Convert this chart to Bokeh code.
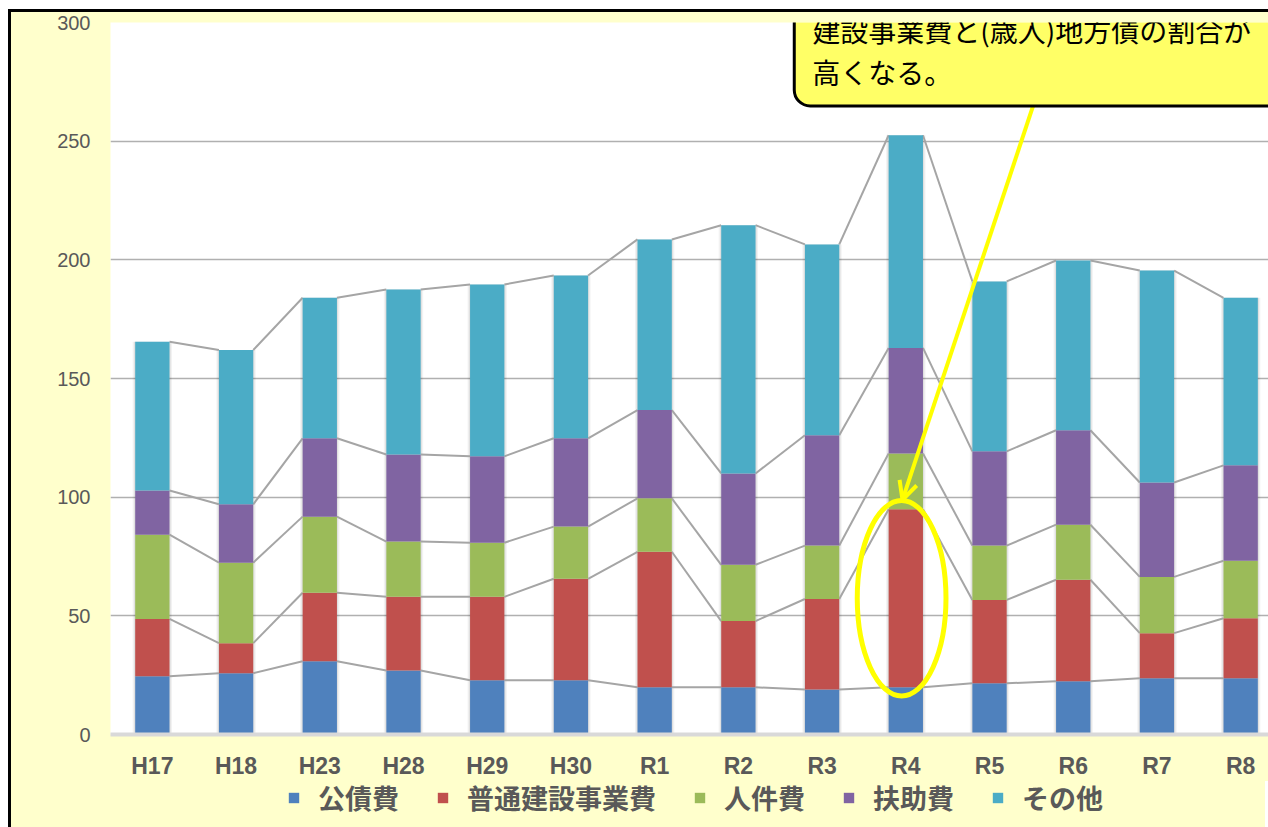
import numpy as np
from bokeh.plotting import figure
from bokeh.layouts import column
from bokeh.models import (Range1d, FixedTicker, Legend, LegendItem, Label, Arrow, OpenHead)
from bokeh.embed import file_html
from bokeh.resources import INLINE

# ---- data (億円) ----
years = ["H17", "H18", "H23", "H28", "H29", "H30", "R1", "R2", "R3", "R4", "R5", "R6", "R7", "R8"]
series_names = ["公債費", "普通建設事業費", "人件費", "扶助費", "その他"]
kousaihi = [24.5, 25.8, 30.9, 27.0, 22.9, 22.9, 19.9, 19.9, 19.0, 19.9, 21.6, 22.4, 23.7, 23.7]
futsuu_kensetsu = [24.2, 12.7, 28.8, 31.0, 35.1, 42.7, 57.1, 27.9, 38.1, 75.0, 35.1, 42.8, 19.0, 25.3]
jinkenhi = [35.5, 33.9, 32.1, 23.3, 22.8, 22.0, 22.5, 23.7, 22.5, 23.5, 22.9, 23.2, 23.7, 24.2]
fujohi = [18.6, 24.6, 33.0, 36.7, 36.4, 37.2, 37.2, 38.5, 46.5, 44.5, 39.7, 39.8, 39.8, 40.2]
sonota = [62.7, 65.0, 59.2, 69.5, 72.4, 68.6, 71.9, 104.6, 80.4, 89.6, 71.6, 71.5, 89.3, 70.6]
y_ticks = [0, 50, 100, 150, 200, 250, 300]
callout_text = "建設事業費と(歳入)地方債の割合が\n高くなる。"
highlight_year = "R4"

colors = ["#4F81BD", "#C0504D", "#9BBB59", "#8064A2", "#4BACC6"]
all_series = [kousaihi, futsuu_kensetsu, jinkenhi, fujohi, sonota]

n = len(years)
idx = np.arange(n)
vals = np.array(all_series, dtype=float)
tops = np.cumsum(vals, axis=0)
bottoms = tops - vals
BAR_W = 0.41

CJK = "Noto Sans CJK JP"
BG = "#FFFFCC"
PX_X = 83.5          # px per category
PX_Y = 709 / 300.0   # px per unit

def sx(px):  # page x pixel -> data x
    return -0.5 + (px - 110) / PX_X

def sy(py):  # page y pixel -> data y
    return (731 - py) / PX_Y

p = figure(frame_width=1158, frame_height=709, output_backend="svg", toolbar_location=None,
           x_range=Range1d(-0.5, -0.5 + 1158 / PX_X), y_range=Range1d(0, 300),
           min_border_left=99, min_border_right=0, min_border_top=10, min_border_bottom=50)
p.styles = {"margin-left": "8px", "margin-top": "9px", "background-color": BG,
            "border-left": "3px solid black", "border-top": "3px solid black"}
p.border_fill_color = BG
p.background_fill_color = "white"
p.outline_line_color = None

# grid
p.xgrid.grid_line_color = None
p.ygrid.ticker = FixedTicker(ticks=y_ticks)
p.ygrid.grid_line_color = "#B0B0B0"
p.ygrid.grid_line_width = 1.5

# shadows behind bars
p.vbar(x=idx, bottom=0, top=tops[-1], width=BAR_W + 0.06, fill_color="black", fill_alpha=0.05, line_color=None)
p.vbar(x=idx, bottom=0, top=tops[-1], width=BAR_W + 0.03, fill_color="black", fill_alpha=0.07, line_color=None)

# series lines
for k in range(len(all_series)):
    p.segment(x0=idx[:-1] + BAR_W / 2, y0=tops[k][:-1], x1=idx[1:] - BAR_W / 2, y1=tops[k][1:],
              line_color="#A5A5A5", line_width=2)

for k in range(len(all_series)):
    p.vbar(x=idx, bottom=bottoms[k], top=tops[k], width=BAR_W, fill_color=colors[k], line_color=None)

# highlight ellipse around R4 普通建設事業費
h = years.index(highlight_year)
p.ellipse(x=[h - 0.05], y=[bottoms[1][h] + vals[1][h] / 2], width=1.06, height=vals[1][h] * 1.1,
          fill_color=None, line_color="#FFFF00", line_width=5)

# arrow from callout
p.add_layout(Arrow(end=OpenHead(line_color="#FFFF00", line_width=4, size=18),
                   x_start=h + 1.55, y_start=268, x_end=h - 0.04, y_end=tops[1][h] + 4,
                   line_color="#FFFF00", line_width=4))

# axes
p.yaxis.ticker = FixedTicker(ticks=y_ticks)
p.yaxis.axis_line_color = None
p.yaxis.major_tick_line_color = None
p.yaxis.minor_tick_line_color = None
p.yaxis.major_label_standoff = 14
p.yaxis.major_label_text_font = "Liberation Sans"
p.yaxis.major_label_text_font_size = "20px"
p.yaxis.major_label_text_color = "#595959"

p.xaxis.ticker = FixedTicker(ticks=list(idx))
p.xaxis.major_label_overrides = {int(i): y for i, y in zip(idx, years)}
p.xaxis.axis_line_color = "#D9D9D9"
p.xaxis.axis_line_width = 4
p.xaxis.major_tick_line_color = None
p.xaxis.minor_tick_line_color = None
p.xaxis.major_label_standoff = 12
p.xaxis.major_label_text_font = "Liberation Sans"
p.xaxis.major_label_text_font_style = "bold"
p.xaxis.major_label_text_font_size = "23px"
p.xaxis.major_label_text_color = "#595959"

# callout (box top sits above the canvas)
p.add_layout(Label(x=sx(792), y=sy(-10), text=callout_text,
                   text_font=CJK, text_font_size="28px", text_color="black",
                   text_align="left", text_baseline="top", text_line_height=1.04,
                   background_fill_color="#FFFF66", border_line_color="black", border_line_width=3,
                   padding=dict(left=18, right=40, top=20, bottom=14), border_radius=16))

# ---- legend strip below the chart ----
lf = figure(width=1257, height=46, output_backend="svg", toolbar_location=None,
            x_range=Range1d(0, 1), y_range=Range1d(0, 1),
            x_axis_location=None, y_axis_location=None,
            min_border_left=99, min_border_right=0, min_border_top=0, min_border_bottom=0)
lf.styles = {"margin-left": "8px", "border-left": "3px solid black", "background-color": BG}
lf.border_fill_color = BG
lf.background_fill_color = BG
lf.outline_line_color = None
lf.xgrid.grid_line_color = None
lf.ygrid.grid_line_color = None
leg_renderers = [lf.vbar(x=[-5], bottom=[0], top=[0], width=0.1, fill_color=c, line_color=None)
                 for c in colors]
legend = Legend(items=[LegendItem(label=nm, renderers=[r]) for nm, r in zip(series_names, leg_renderers)],
                orientation="horizontal", location=(177, 10),
                label_text_font=CJK, label_text_font_style="bold", label_text_font_size="27px",
                label_text_color="#595959", glyph_width=13, glyph_height=13, label_standoff=18,
                spacing=37, padding=0, margin=0, background_fill_alpha=0, border_line_color=None)
lf.add_layout(legend, "center")

layout = column(p, lf, spacing=0)
open("out.html", "w").write(file_html(layout, INLINE))
